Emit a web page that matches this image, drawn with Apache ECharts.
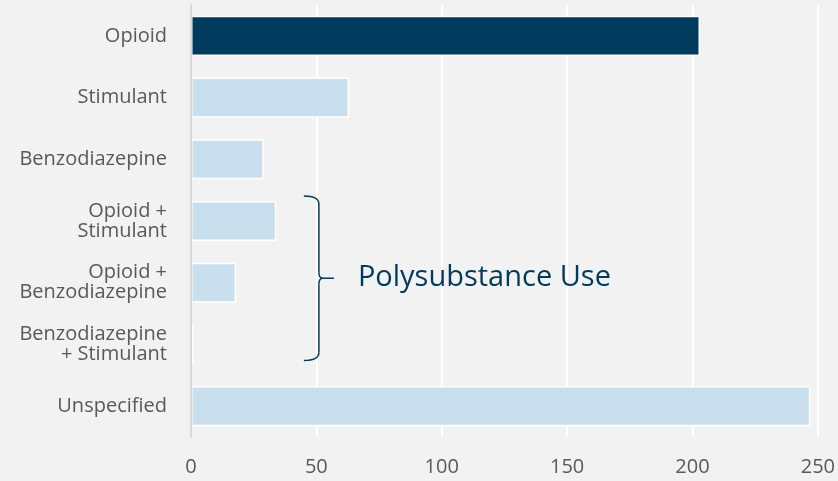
<!DOCTYPE html>
<html>
<head>
<meta charset="utf-8">
<script src="https://cdn.jsdelivr.net/npm/echarts@6/dist/echarts.min.js"></script>
<style>
  html, body { margin: 0; padding: 0; background: #f2f2f2; }
  #chart { width: 838px; height: 481px; }
</style>
</head>
<body>
<div id="chart"></div>
<script>
// 카테고리 (위에서 아래 순서)
const categories = [
    'Opioid',
    'Stimulant',
    'Benzodiazepine',
    'Opioid +\nStimulant',
    'Opioid +\nBenzodiazepine',
    'Benzodiazepine\n+ Stimulant',
    'Unspecified'
];
const counts = [203, 63, 29, 34, 18, 1, 247];
const highlightIndex = 0;
const xTicks = [0, 50, 100, 150, 200, 250];

const DARK = '#003a5c';
const LIGHT = '#c9dfed';
const LABEL = '#595959';

const chart = echarts.init(document.getElementById('chart'));

const option = {
    backgroundColor: '#f2f2f2',
    animation: false,
    grid: { left: 191, right: 18, top: 5, bottom: 44, containLabel: false },
    xAxis: {
        type: 'value',
        min: xTicks[0],
        max: xTicks[xTicks.length - 1],
        interval: 50,
        axisLine: { show: false },
        axisTick: { show: false },
        splitLine: { show: true, lineStyle: { color: '#ffffff', width: 2 } },
        axisLabel: {
            fontFamily: 'Open Sans',
            fontSize: 20,
            color: LABEL,
            margin: 20
        }
    },
    yAxis: {
        type: 'category',
        inverse: true,
        z: 5,
        data: categories,
        axisLine: { show: true, lineStyle: { color: '#d9d9d9', width: 2 } },
        axisTick: { show: false },
        axisLabel: {
            fontFamily: 'Open Sans',
            fontSize: 20,
            lineHeight: 20,
            color: LABEL,
            margin: 24,
            align: 'right'
        }
    },
    series: [{
        type: 'bar',
        barWidth: '65%',
        data: counts.map((v, i) => ({
            value: v,
            itemStyle: {
                color: i === highlightIndex ? DARK : LIGHT,
                borderColor: '#ffffff',
                borderWidth: 1.5
            }
        }))
    }]
};

chart.setOption(option);

// 다중 약물 사용 중괄호 주석
const bx = chart.convertToPixel({ xAxisIndex: 0 }, 51);
const yTop = chart.convertToPixel({ yAxisIndex: 0 }, 3) - 25;
const yBot = chart.convertToPixel({ yAxisIndex: 0 }, 5) + 16;
const yMid = (yTop + yBot) / 2;
const w = 15;
const braceStyle = { fill: null, stroke: DARK, lineWidth: 1.5 };

chart.setOption({
    graphic: [
        { type: 'bezierCurve', shape: { x1: bx - w, y1: yTop, cpx1: bx, cpy1: yTop, x2: bx, y2: yTop + 8 }, style: braceStyle },
        { type: 'line', shape: { x1: bx, y1: yTop + 8, x2: bx, y2: yMid - 6 }, style: braceStyle },
        { type: 'bezierCurve', shape: { x1: bx, y1: yMid - 6, cpx1: bx, cpy1: yMid, x2: bx + 4, y2: yMid }, style: braceStyle },
        { type: 'bezierCurve', shape: { x1: bx, y1: yMid + 6, cpx1: bx, cpy1: yMid, x2: bx + 4, y2: yMid }, style: braceStyle },
        { type: 'line', shape: { x1: bx + 4, y1: yMid, x2: bx + 15, y2: yMid }, style: braceStyle },
        { type: 'line', shape: { x1: bx, y1: yMid + 6, x2: bx, y2: yBot - 8 }, style: braceStyle },
        { type: 'bezierCurve', shape: { x1: bx, y1: yBot - 8, cpx1: bx, cpy1: yBot, x2: bx - w, y2: yBot }, style: braceStyle },
        {
            type: 'text',
            x: bx + 39,
            y: yMid,
            style: {
                text: 'Polysubstance Use',
                fontFamily: 'Open Sans',
                fontSize: 29,
                fill: DARK,
                verticalAlign: 'middle'
            }
        }
    ]
});
</script>
</body>
</html>
